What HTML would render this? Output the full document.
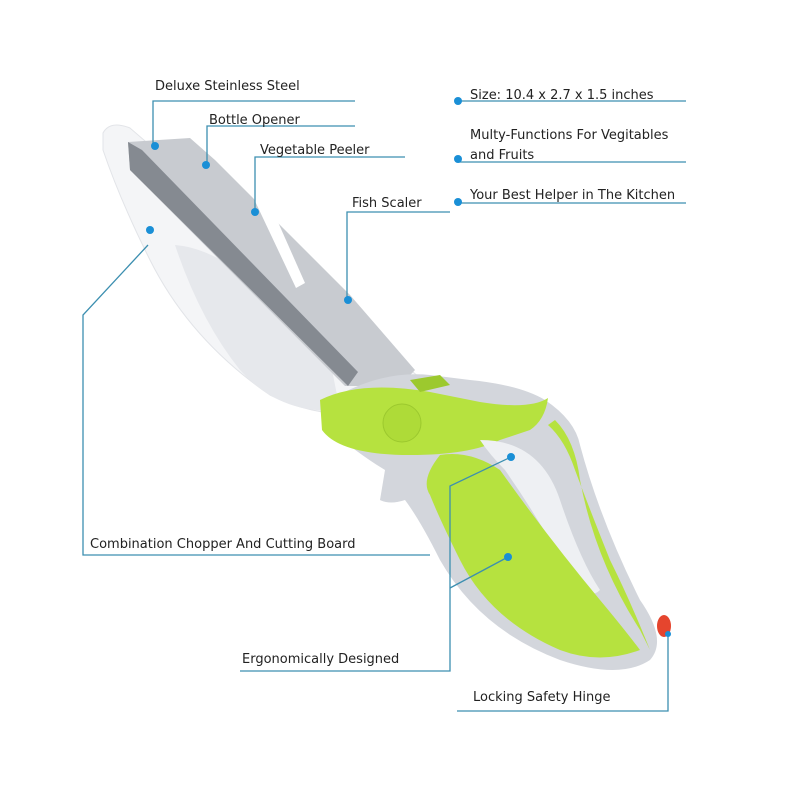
<!DOCTYPE html>
<html><head><meta charset="utf-8"><style>
html,body{margin:0;padding:0;background:#fff;}
svg{display:block;}
text{font-family:"DejaVu Sans","Liberation Sans",sans-serif;font-size:13px;fill:#222;}
</style></head><body>
<svg width="800" height="800" viewBox="0 0 800 800" xmlns="http://www.w3.org/2000/svg">
<rect width="800" height="800" fill="#fff"/>
<!-- cutting board -->
<path d="M103,133 Q110,120 130,128 L420,378 L410,410 Q330,425 270,395 Q190,340 150,260 Q120,200 103,150 Z" fill="#f4f5f7" stroke="#e2e4e8"/>
<path d="M175,245 Q240,250 330,360 L340,410 Q280,415 240,370 Q200,320 175,245 Z" fill="#e6e8ec"/>
<!-- blade -->
<path d="M128,142 L190,138 L215,160 L350,295 L415,370 L400,386 L345,386 L130,170 Z" fill="#c8cbd0"/>
<path d="M128,142 L142,150 L358,372 L348,386 L130,170 Z" fill="#858a91"/>
<path d="M245,180 L258,177 L305,283 L296,288 Z" fill="#fff"/>
<!-- handle gray base -->
<path d="M330,400 Q380,370 430,375 L470,380 Q520,385 545,400 Q575,420 580,445 Q600,520 640,600 Q668,640 650,660 Q620,680 560,660 Q480,630 440,560 Q420,520 405,500 Q390,505 380,500 L385,470 Q360,455 330,430 Z" fill="#d3d6dc"/>
<!-- green upper arm -->
<path d="M320,400 Q360,380 430,392 L480,402 Q530,410 548,398 Q545,420 530,430 L500,440 Q470,455 410,455 Q340,455 322,430 Z" fill="#b6e23f"/>
<circle cx="402" cy="423" r="19" fill="#aedb38" stroke="#9cc92e"/>
<!-- steel strip in handle -->
<path d="M480,440 Q540,440 560,500 Q580,560 600,590 Q590,600 575,585 Q540,520 505,470 Q490,455 480,440 Z" fill="#eef0f3"/>
<!-- green grip -->
<path d="M440,455 Q470,450 500,470 Q550,540 600,600 Q625,630 640,650 Q600,665 560,650 Q490,620 460,560 Q440,520 430,495 Q420,480 440,455 Z" fill="#b6e23f"/>
<path d="M555,420 Q575,440 580,480 Q595,560 640,630 L650,650 Q630,600 610,560 Q590,510 575,470 Q565,440 548,425 Z" fill="#b6e23f"/>
<path d="M410,380 L440,375 L450,385 L420,392 Z" fill="#9cc92e"/>
<ellipse cx="664" cy="626" rx="7" ry="11" fill="#e5452e"/>
<!-- connectors -->
<g stroke="#3c8fb0" stroke-width="1.3" fill="none">
<polyline points="355,101 153,101 153,146"/>
<polyline points="355,126 207,126 207,165"/>
<polyline points="405,157 255,157 255,212"/>
<polyline points="450,212 347,212 347,300"/>
<line x1="458" y1="101" x2="686" y2="101"/>
<line x1="458" y1="162" x2="686" y2="162"/>
<line x1="458" y1="203" x2="686" y2="203"/>
<polyline points="148,245 83,315 83,555 430,555"/>
<polyline points="511,457 450,486 450,671 240,671"/>
<line x1="508" y1="557" x2="450" y2="588"/>
<polyline points="668,634 668,711 457,711"/>
</g>
<g fill="#1a8fd6">
<circle cx="155" cy="146" r="4"/><circle cx="206" cy="165" r="4"/><circle cx="255" cy="212" r="4"/><circle cx="348" cy="300" r="4"/>
<circle cx="458" cy="101" r="4"/><circle cx="458" cy="159" r="4"/><circle cx="458" cy="202" r="4"/>
<circle cx="150" cy="230" r="4"/><circle cx="511" cy="457" r="4"/><circle cx="508" cy="557" r="4"/><circle cx="668" cy="634" r="3"/>
</g>
<text x="155" y="90">Deluxe Steinless Steel</text>
<text x="209" y="124">Bottle Opener</text>
<text x="260" y="154">Vegetable Peeler</text>
<text x="352" y="207">Fish Scaler</text>
<text x="470" y="99">Size: 10.4 x 2.7 x 1.5 inches</text>
<text x="470" y="139">Multy-Functions For Vegitables</text>
<text x="470" y="159">and Fruits</text>
<text x="470" y="199">Your Best Helper in The Kitchen</text>
<text x="90" y="548">Combination Chopper And Cutting Board</text>
<text x="242" y="663">Ergonomically Designed</text>
<text x="473" y="701">Locking Safety Hinge</text>
</svg>
</body></html>
